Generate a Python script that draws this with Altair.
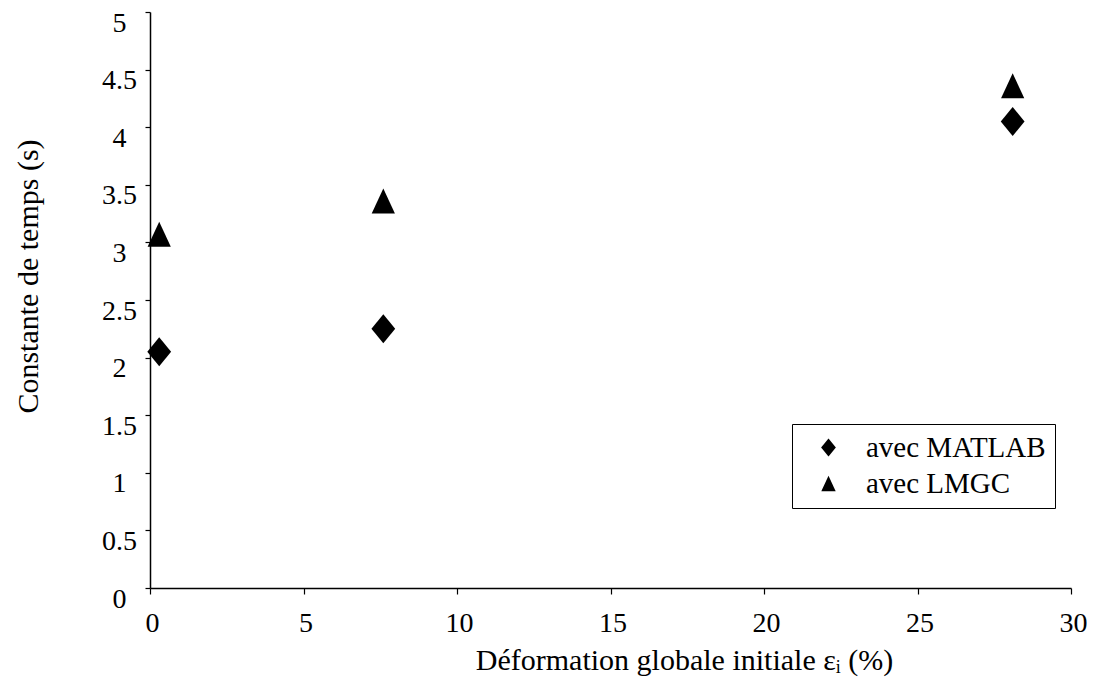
import altair as alt
import pandas as pd

# Data
deformation = [0.3, 7.6, 28.1]          # Déformation globale initiale (%)
tau_matlab = [2.05, 2.25, 4.05]         # Constante de temps (s), avec MATLAB
tau_lmgc = [3.07, 3.36, 4.36]           # Constante de temps (s), avec LMGC
series_names = ["avec MATLAB", "avec LMGC"]
x_ticks = [0, 5, 10, 15, 20, 25, 30]
y_ticks = [0, 0.5, 1, 1.5, 2, 2.5, 3, 3.5, 4, 4.5, 5]

rows = []
for x, y in zip(deformation, tau_matlab):
    rows.append({"x": x, "y": y, "serie": series_names[0]})
for x, y in zip(deformation, tau_lmgc):
    rows.append({"x": x, "y": y, "serie": series_names[1]})
df = pd.DataFrame(rows)

FONT = "Liberation Serif"
diamond = "M0,-1L0.82,0L0,1L-0.82,0Z"
triangle = "M0,-0.86L0.8,0.86L-0.8,0.86Z"

chart = alt.Chart(df).mark_point(filled=True, color="black", opacity=1, size=841, strokeWidth=0).encode(
    x=alt.X("x:Q",
            scale=alt.Scale(domain=[0, 30], nice=False, zero=False),
            axis=alt.Axis(values=x_ticks, format="d",
                          title="Déformation globale initiale εᵢ (%)",
                          labelPadding=15, labelOffset=2, tickSize=6, labelFlush=False,
                          titlePadding=8, titleX=534)),
    y=alt.Y("y:Q",
            scale=alt.Scale(domain=[0, 5], nice=False, zero=False),
            axis=alt.Axis(values=y_ticks, format="~g",
                          title="Constante de temps (s)",
                          labelAlign="center", labelBaseline="top", labelOffset=-3,
                          labelPadding=26, tickSize=5, labelFlush=False,
                          titleX=-122, titleY=264, titleBaseline="middle")),
    shape=alt.Shape("serie:N",
                    scale=alt.Scale(domain=series_names, range=[diamond, triangle]),
                    legend=alt.Legend(title=None, orient="none", legendX=642, legendY=412,
                                      strokeColor="black", fillColor="white", padding=9,
                                      symbolOffset=13, symbolSize=324, labelOffset=23,
                                      symbolFillColor="black", symbolStrokeColor="black",
                                      symbolStrokeWidth=0, rowPadding=6, labelLimit=400,
                                      labelFontSize=29, labelFont=FONT, labelColor="black")),
).properties(
    width=921, height=576,
    autosize=alt.AutoSizeParams(type="none"),
    padding={"left": 142, "top": 4, "right": 16, "bottom": 90},
).configure_view(stroke=None).configure_axis(
    grid=False, domainColor="black", domainWidth=1.5, tickColor="black", tickWidth=1.2,
    labelFont=FONT, labelFontSize=28, labelColor="black",
    titleFont=FONT, titleFontSize=30, titleColor="black", titleFontWeight="normal",
)

chart.save("out.html", embed_options={"renderer": "svg", "actions": False})
